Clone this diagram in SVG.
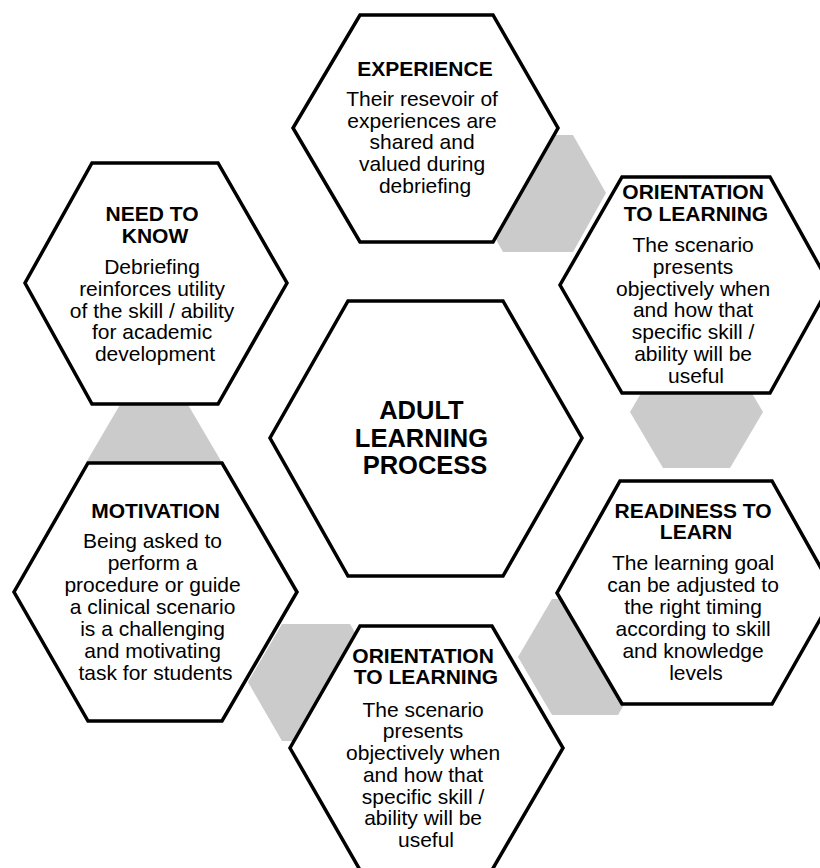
<svg xmlns="http://www.w3.org/2000/svg" width="820" height="868" viewBox="0 0 820 868">
  <style>
    .hex { fill: #ffffff; stroke: #000000; stroke-width: 3.5; stroke-linejoin: miter; }
    .link { fill: #cbcbcb; stroke: none; }
    text { font-family: "Liberation Sans", Arial, sans-serif; fill: #000000; text-anchor: middle; }
    .title { font-size: 21px; font-weight: bold; }
    .body { font-size: 21px; }
    .core { font-size: 25.5px; font-weight: bold; }
  </style>
  <rect width="820" height="868" fill="#ffffff"/>

  <!-- grey linking hexagons sitting behind the main cells -->
  <g id="links">
    <polygon class="link" points="503,135 573,135 606,193 573,252 503,252 470,193"/>
    <polygon class="link" points="663,356 730,356 763,412 730,468 663,468 630,412"/>
    <polygon class="link" points="552,599 618,599 652,657 618,715 552,715 518,657"/>
    <polygon class="link" points="282,624 350,624 384,682 350,741 282,741 248,682"/>
    <polygon class="link" points="121,403 187,403 221,461 187,519 121,519 87,461"/>
  </g>

  <g id="experience">
    <polygon class="hex" points="360,15 493,15 558,128 493,242 360,242 293,128"/>
    <text class="title" x="425" y="76">EXPERIENCE</text>
    <text class="body">
      <tspan x="425" y="106">Their resevoir of</tspan>
      <tspan x="425" y="127.7">experiences are</tspan>
      <tspan x="425" y="149.4">shared and</tspan>
      <tspan x="425" y="171.1">valued during</tspan>
      <tspan x="425" y="192.8">debriefing</tspan>
    </text>
  </g>

  <g id="orientation-right">
    <polygon class="hex" points="622,177 770,177 830,285 770,393 622,393 560,285"/>
    <text class="title">
      <tspan x="696" y="199.3">ORIENTATION</tspan>
      <tspan x="696" y="220.7">TO LEARNING</tspan>
    </text>
    <text class="body">
      <tspan x="696" y="251.7">The scenario</tspan>
      <tspan x="696" y="273.6">presents</tspan>
      <tspan x="696" y="295.5">objectively when</tspan>
      <tspan x="696" y="317.4">and how that</tspan>
      <tspan x="696" y="339.3">specific skill /</tspan>
      <tspan x="696" y="361.2">ability will be</tspan>
      <tspan x="696" y="383.1">useful</tspan>
    </text>
  </g>

  <g id="need-to-know">
    <polygon class="hex" points="92,163 218,163 287,283 218,404 92,404 25,283"/>
    <text class="title">
      <tspan x="155" y="220.7">NEED TO</tspan>
      <tspan x="155" y="242.7">KNOW</tspan>
    </text>
    <text class="body">
      <tspan x="155" y="274">Debriefing</tspan>
      <tspan x="155" y="295.8">reinforces utility</tspan>
      <tspan x="155" y="317.5">of the skill / ability</tspan>
      <tspan x="155" y="339.3">for academic</tspan>
      <tspan x="155" y="361">development</tspan>
    </text>
  </g>

  <g id="adult-learning-process">
    <polygon class="hex" points="348,301 503,301 582,438 503,576 348,576 270,438"/>
    <text class="core">
      <tspan x="425" y="419.3">ADULT</tspan>
      <tspan x="425" y="446.7">LEARNING</tspan>
      <tspan x="425" y="474">PROCESS</tspan>
    </text>
  </g>

  <g id="motivation">
    <polygon class="hex" points="88,463 222,463 297,592 222,721 88,721 14,592"/>
    <text class="title" x="155.5" y="518.3">MOTIVATION</text>
    <text class="body">
      <tspan x="155.5" y="548.3">Being asked to</tspan>
      <tspan x="155.5" y="570.2">perform a</tspan>
      <tspan x="155.5" y="592.2">procedure or guide</tspan>
      <tspan x="155.5" y="614.1">a clinical scenario</tspan>
      <tspan x="155.5" y="636.1">is a challenging</tspan>
      <tspan x="155.5" y="658">and motivating</tspan>
      <tspan x="155.5" y="680">task for students</tspan>
    </text>
  </g>

  <g id="readiness-to-learn">
    <polygon class="hex" points="620,481 772,481 835,593 772,704 622,704 557,593"/>
    <text class="title">
      <tspan x="696" y="517.7">READINESS TO</tspan>
      <tspan x="696" y="539.3">LEARN</tspan>
    </text>
    <text class="body">
      <tspan x="696" y="570">The learning goal</tspan>
      <tspan x="696" y="591.9">can be adjusted to</tspan>
      <tspan x="696" y="613.8">the right timing</tspan>
      <tspan x="696" y="635.7">according to skill</tspan>
      <tspan x="696" y="657.6">and knowledge</tspan>
      <tspan x="696" y="679.5">levels</tspan>
    </text>
  </g>

  <g id="orientation-bottom">
    <polygon class="hex" points="360,626 492,626 563,748 492,870 360,870 290,748"/>
    <text class="title">
      <tspan x="426" y="662.7">ORIENTATION</tspan>
      <tspan x="426" y="684.3">TO LEARNING</tspan>
    </text>
    <text class="body">
      <tspan x="426" y="716.7">The scenario</tspan>
      <tspan x="426" y="738.4">presents</tspan>
      <tspan x="426" y="760.1">objectively when</tspan>
      <tspan x="426" y="781.8">and how that</tspan>
      <tspan x="426" y="803.5">specific skill /</tspan>
      <tspan x="426" y="825.2">ability will be</tspan>
      <tspan x="426" y="846.9">useful</tspan>
    </text>
  </g>
</svg>
